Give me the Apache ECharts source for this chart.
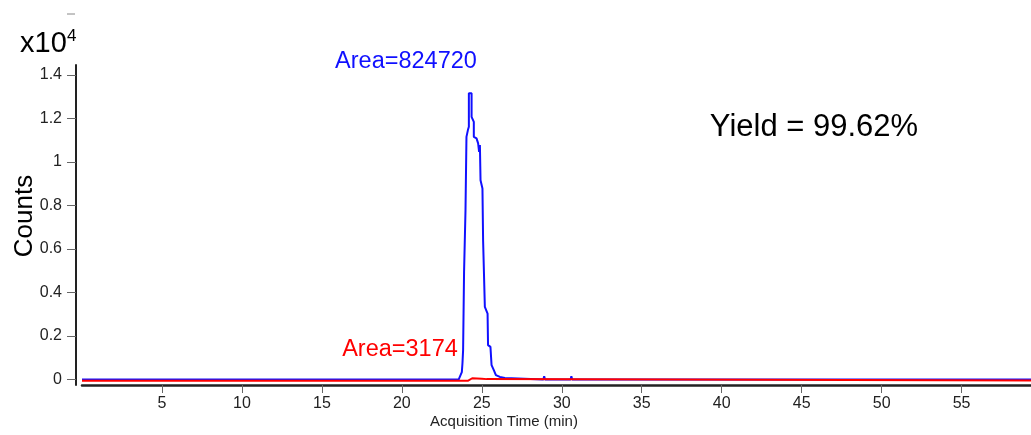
<!DOCTYPE html>
<html>
<head>
<meta charset="utf-8">
<script src="https://cdn.jsdelivr.net/npm/echarts@6/dist/echarts.min.js"></script>
<style>
  html, body { margin: 0; padding: 0; background: #fff; }
  #chart { width: 1031px; height: 435px; }
</style>
</head>
<body>
<div id="chart"></div>
<script>
// blue trace (product), counts vs acquisition time (min)
var blueTime = [0, 23.55, 23.62, 23.75, 23.79, 23.83, 23.89, 23.98, 24.04, 24.13, 24.19, 24.19, 24.36, 24.36, 24.5, 24.5,
  24.67, 24.77, 24.83, 24.88, 24.92, 25.04, 25.08, 25.19, 25.36, 25.39, 25.54, 25.61, 25.75, 25.88, 26.13, 26.44, 26.54,
  28.85, 28.9, 28.95, 30.55, 30.6, 30.65, 60];
var blueCounts = [0, 0, 40, 340, 750, 1350, 4950, 7780, 11150, 11460, 11610, 13150, 13150, 12070, 11840, 11150,
  11080, 10850, 10460, 10770, 9160, 8780, 6400, 3340, 3030, 1580, 1500, 660, 430, 200, 120, 70, 0,
  0, 150, 0, 0, 150, 0, 0];
// red trace (residue)
var redTime = [0, 24.15, 24.2, 24.4, 24.5, 24.7, 25.0, 25.3, 25.35, 60];
var redCounts = [-50, -50, 40, 60, 30, 50, 40, 20, -50, -50];
// axis ticks
var yTicks = [0, 2000, 4000, 6000, 8000, 10000, 12000, 14000];
var xTicks = [5, 10, 15, 20, 25, 30, 35, 40, 45, 50, 55];

var font = 'Liberation Sans, Arial, Helvetica, sans-serif';

function pairs(t, v) {
  var out = [];
  for (var i = 0; i < t.length; i++) out.push([t[i], v[i]]);
  return out;
}

var chart = echarts.init(document.getElementById('chart'), null, { renderer: 'canvas' });
var option = {
  animation: false,
  backgroundColor: '#fff',
  grid: { left: 82, right: 0, top: 65, bottom: 50, outerBoundsMode: 'none', containLabel: false },
  xAxis: {
    type: 'value',
    min: 0,
    max: 59.34,
    axisLine: { show: true, onZero: false, lineStyle: { color: '#222', width: 2.5 } },
    axisTick: { show: true, customValues: xTicks, length: 8, lineStyle: { color: '#666', width: 1 } },
    axisLabel: { customValues: xTicks, margin: 11, color: '#222', fontSize: 16, fontFamily: font },
    splitLine: { show: false }
  },
  yAxis: {
    type: 'value',
    min: -250,
    max: 14450,
    offset: 6,
    axisLine: { show: true, onZero: false, lineStyle: { color: '#222', width: 2 } },
    axisTick: { show: true, customValues: yTicks, length: 9, lineStyle: { color: '#666', width: 1 } },
    axisLabel: {
      customValues: yTicks, margin: 14, color: '#222', fontSize: 16, fontFamily: font,
      formatter: function (v) { return String(v / 10000); }
    },
    splitLine: { show: false }
  },
  series: [
    {
      name: 'product',
      type: 'line',
      data: pairs(blueTime, blueCounts),
      symbol: 'none',
      clip: true,
      lineStyle: { color: '#1010ff', width: 2 },
      z: 2
    },
    {
      name: 'residue',
      type: 'line',
      data: pairs(redTime, redCounts),
      symbol: 'none',
      clip: true,
      lineStyle: { color: '#ff0000', width: 2 },
      z: 3
    }
  ],
  graphic: [
    { type: 'line', shape: { x1: 67, y1: 14, x2: 75, y2: 14 }, style: { stroke: '#888', lineWidth: 1 } },
    { type: 'text', x: 20, y: 44, style: { text: 'x10', font: '29px ' + font, fill: '#000', align: 'left', verticalAlign: 'middle' } },
    { type: 'text', x: 67, y: 36, style: { text: '4', font: '17px ' + font, fill: '#000', align: 'left', verticalAlign: 'middle' } },
    { type: 'text', x: 25, y: 216, rotation: Math.PI / 2, style: { text: 'Counts', font: '26px ' + font, fill: '#000', align: 'center', verticalAlign: 'middle' } },
    { type: 'text', x: 406, y: 62, style: { text: 'Area=824720', font: '23.5px ' + font, fill: '#1010ff', align: 'center', verticalAlign: 'middle' } },
    { type: 'text', x: 400, y: 350, style: { text: 'Area=3174', font: '23.5px ' + font, fill: '#ff0000', align: 'center', verticalAlign: 'middle' } },
    { type: 'text', x: 814, y: 127, style: { text: 'Yield = 99.62%', font: '31px ' + font, fill: '#000', align: 'center', verticalAlign: 'middle' } },
    { type: 'text', x: 504, y: 422, style: { text: 'Acquisition Time (min)', font: '15px ' + font, fill: '#222', align: 'center', verticalAlign: 'middle' } }
  ]
};
chart.setOption(option);
window.addEventListener('resize', function () {
  chart.resize();
});
</script>
</body>
</html>
